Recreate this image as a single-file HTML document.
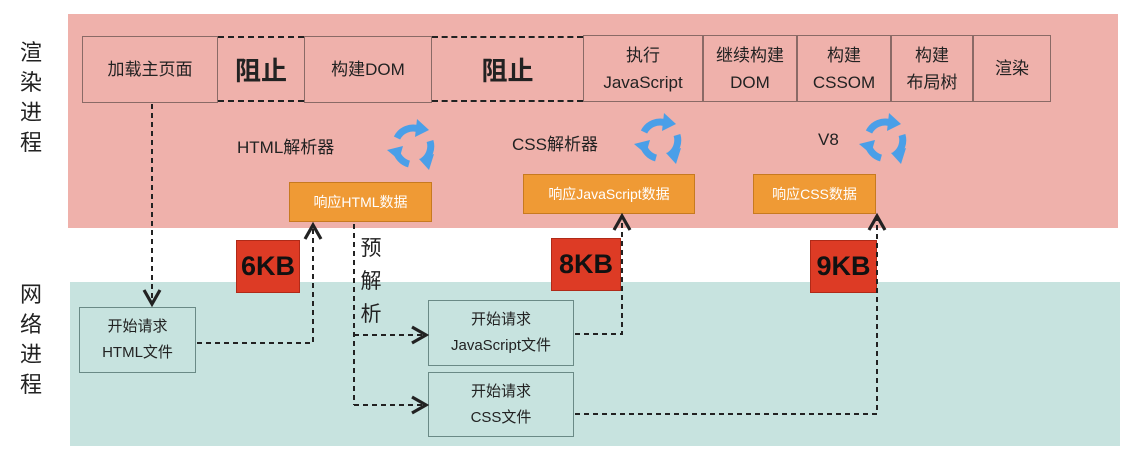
<!DOCTYPE html>
<html><head><meta charset="utf-8"><style>
body{margin:0;width:1142px;height:459px;background:#fff;position:relative;overflow:hidden;font-family:"Liberation Sans","Noto Sans CJK SC",sans-serif;color:#222}
.a{position:absolute;box-sizing:border-box}
.b{border:1px solid #8a6a66;display:flex;align-items:center;justify-content:center;text-align:center;font-size:17px;line-height:27px}
.d{border-top:2px dashed #222;border-bottom:2px dashed #222;display:flex;align-items:center;justify-content:center;font-size:26px;font-weight:bold}
.o{background:#ef9a35;border:1px solid #c77a20;color:#fff;font-size:14px;display:flex;align-items:center;justify-content:center}
.r{background:#dd3b25;border:1px solid #b02a18;font-size:27px;font-weight:bold;color:#111;display:flex;align-items:center;justify-content:center}
.n{border:1px solid #6a8a86;display:flex;align-items:center;justify-content:center;text-align:center;font-size:15px;line-height:26px}
.v{font-size:22px;line-height:30px;width:26px;text-align:center}
.lb{font-size:17px}
</style></head><body>
<div class="a" style="left:68px;top:14px;width:1050px;height:214px;background:#efb1ab"></div>
<div class="a" style="left:70px;top:282px;width:1050px;height:164px;background:#c7e3df"></div>
<div class="a v" style="left:18px;top:38px">渲<br>染<br>进<br>程</div>
<div class="a v" style="left:18px;top:280px">网<br>络<br>进<br>程</div>

<div class="a b" style="left:82px;top:36px;width:136px;height:67px">加载主页面</div>
<div class="a d" style="left:218px;top:36px;width:86px;height:66px">阻止</div>
<div class="a b" style="left:304px;top:36px;width:128px;height:67px">构建DOM</div>
<div class="a d" style="left:432px;top:36px;width:151px;height:66px">阻止</div>
<div class="a b" style="left:583px;top:35px;width:120px;height:67px">执行<br>JavaScript</div>
<div class="a b" style="left:703px;top:35px;width:94px;height:67px">继续构建<br>DOM</div>
<div class="a b" style="left:797px;top:35px;width:94px;height:67px">构建<br>CSSOM</div>
<div class="a b" style="left:891px;top:35px;width:82px;height:67px">构建<br>布局树</div>
<div class="a b" style="left:973px;top:35px;width:78px;height:67px">渲染</div>

<div class="a lb" style="left:237px;top:133px">HTML解析器</div>
<div class="a lb" style="left:512px;top:130px">CSS解析器</div>
<div class="a lb" style="left:818px;top:130px">V8</div>

<div class="a o" style="left:289px;top:182px;width:143px;height:40px">响应HTML数据</div>
<div class="a o" style="left:523px;top:174px;width:172px;height:40px">响应JavaScript数据</div>
<div class="a o" style="left:753px;top:174px;width:123px;height:40px">响应CSS数据</div>

<div class="a r" style="left:236px;top:240px;width:64px;height:53px">6KB</div>
<div class="a r" style="left:551px;top:238px;width:70px;height:53px">8KB</div>
<div class="a r" style="left:810px;top:240px;width:67px;height:53px">9KB</div>

<div class="a n" style="left:79px;top:307px;width:117px;height:66px">开始请求<br>HTML文件</div>
<div class="a n" style="left:428px;top:300px;width:146px;height:66px">开始请求<br>JavaScript文件</div>
<div class="a n" style="left:428px;top:372px;width:146px;height:65px">开始请求<br>CSS文件</div>
<div class="a v" style="left:358px;top:232px;font-size:21px;line-height:33px">预<br>解<br>析</div>

<svg class="a" style="left:0;top:0" width="1142" height="459">
<defs>
<g id="cyc" fill="none" stroke="#4a9fe8" stroke-width="7">
<path d="M-16,-8 A18,18 0 0 1 6,-17"/><path d="M17,-5 A18,18 0 0 1 10,15"/><path d="M-4,18 A18,18 0 0 1 -17,4"/>
<g fill="#4a9fe8" stroke="none"><polygon points="4,-27 16,-16 2,-9"/><polygon points="21,8 16,24 6,13"/><polygon points="-26,4 -10,0 -14,14"/></g>
</g>
<marker id="ar" markerWidth="10" markerHeight="10" refX="8" refY="5" orient="auto"><path d="M1,1 L8,5 L1,9" fill="none" stroke="#222" stroke-width="1.6"/></marker>
</defs>
<use href="#cyc" x="413" y="146"/>
<use href="#cyc" x="660" y="140"/>
<use href="#cyc" x="885" y="140"/>
<g fill="none" stroke="#222" stroke-width="2" stroke-dasharray="5,4">
<path d="M152,104 V304" marker-end="url(#ar)"/>
<path d="M197,343 H313 V225" marker-end="url(#ar)"/>
<path d="M354,224 V405"/>
<path d="M354,335 H426" marker-end="url(#ar)"/>
<path d="M354,405 H426" marker-end="url(#ar)"/>
<path d="M575,334 H622 V216" marker-end="url(#ar)"/>
<path d="M575,414 H877 V216" marker-end="url(#ar)"/>
</g>
</svg>
</body></html>
